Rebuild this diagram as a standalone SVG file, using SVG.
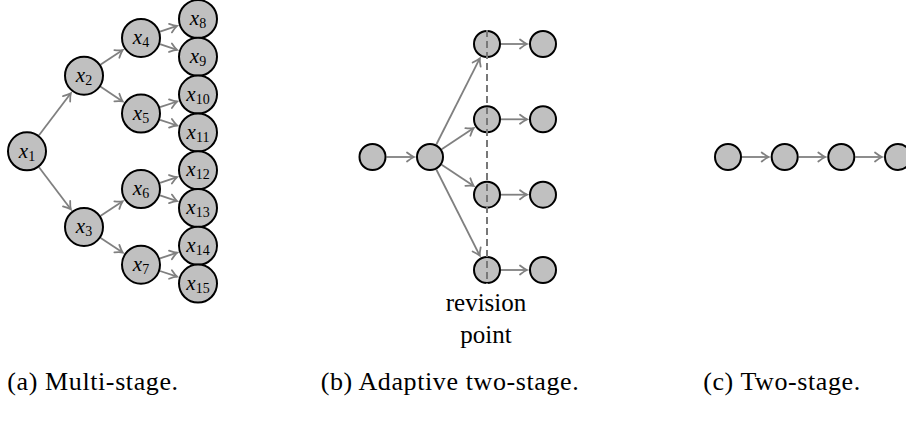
<svg xmlns="http://www.w3.org/2000/svg" width="906" height="424" viewBox="0 0 906 424">
<style>
.n{fill:#c0c0c0;stroke:#000;stroke-width:2}
.e{stroke:#808080;stroke-width:1.8;fill:none;marker-end:url(#ah)}
.lbl{font-family:'Liberation Serif','Times New Roman',serif;font-style:italic;font-size:21px;text-anchor:middle;fill:#000}
.sub{font-style:normal;font-size:14px}
.t{font-family:'Liberation Serif','Times New Roman',serif;font-size:25px;text-anchor:middle;fill:#000}
.cap{font-family:'Liberation Serif','Times New Roman',serif;font-size:26px;letter-spacing:0.6px;text-anchor:middle;fill:#000}
.d{stroke:#787878;stroke-width:2;stroke-dasharray:7,4;fill:none}
</style>
<defs>
<marker id="ah" markerUnits="userSpaceOnUse" markerWidth="12" markerHeight="12" viewBox="-9 -6 11 12" refX="0" refY="0" orient="auto">
<path d="M-7,-4.5 Q-2.5,-1 0,0 Q-2.5,1 -7,4.5" fill="none" stroke="#808080" stroke-width="1.8" stroke-linecap="round"/>
</marker>
</defs>

<g id="edges">
<line class="e" x1="39" y1="135.3" x2="70.8" y2="93.3"/>
<line class="e" x1="39" y1="167.3" x2="70.8" y2="209.3"/>
<line class="e" x1="100.7" y1="64.6" x2="122.7" y2="50.1"/>
<line class="e" x1="100.7" y1="86.8" x2="122.7" y2="101.4"/>
<line class="e" x1="100.7" y1="215.8" x2="122.7" y2="201.3"/>
<line class="e" x1="100.7" y1="238" x2="122.7" y2="252.5"/>
<line class="e" x1="160" y1="31.6" x2="177.1" y2="25.9"/>
<line class="e" x1="160" y1="44.2" x2="177.1" y2="49.9"/>
<line class="e" x1="160" y1="107.2" x2="177.1" y2="101.5"/>
<line class="e" x1="160" y1="119.8" x2="177.1" y2="125.5"/>
<line class="e" x1="160" y1="182.8" x2="177.1" y2="177.1"/>
<line class="e" x1="160" y1="195.4" x2="177.1" y2="201.1"/>
<line class="e" x1="160" y1="258.4" x2="177.1" y2="252.7"/>
<line class="e" x1="160" y1="271" x2="177.1" y2="276.7"/>
<line class="e" x1="386.5" y1="157" x2="414" y2="157"/>
<line class="e" x1="436.3" y1="144.5" x2="479.8" y2="58.3"/>
<line class="e" x1="441.7" y1="149.3" x2="473.7" y2="128.1"/>
<line class="e" x1="441.7" y1="164.7" x2="473.7" y2="185.9"/>
<line class="e" x1="436.3" y1="169.5" x2="479.8" y2="255.7"/>
<line class="e" x1="501" y1="44" x2="527" y2="44"/>
<line class="e" x1="501" y1="119.3" x2="527" y2="119.3"/>
<line class="e" x1="501" y1="194.7" x2="527" y2="194.7"/>
<line class="e" x1="501" y1="270" x2="527" y2="270"/>
<line class="e" x1="742" y1="157" x2="768.7" y2="157"/>
<line class="e" x1="798.7" y1="157" x2="825.3" y2="157"/>
<line class="e" x1="855.3" y1="157" x2="882" y2="157"/>
</g>

<g id="x1"><circle class="n" cx="27" cy="151.3" r="19"/><text class="lbl" x="27" y="157.5">x<tspan class="sub" dy="3">1</tspan></text></g>
<g id="x2"><circle class="n" cx="84" cy="75.7" r="19"/><text class="lbl" x="84" y="81.9">x<tspan class="sub" dy="3">2</tspan></text></g>
<g id="x3"><circle class="n" cx="84" cy="226.9" r="19"/><text class="lbl" x="84" y="233.1">x<tspan class="sub" dy="3">3</tspan></text></g>
<g id="x4"><circle class="n" cx="141" cy="37.9" r="19"/><text class="lbl" x="141" y="44.1">x<tspan class="sub" dy="3">4</tspan></text></g>
<g id="x5"><circle class="n" cx="141" cy="113.5" r="19"/><text class="lbl" x="141" y="119.7">x<tspan class="sub" dy="3">5</tspan></text></g>
<g id="x6"><circle class="n" cx="141" cy="189.1" r="19"/><text class="lbl" x="141" y="195.3">x<tspan class="sub" dy="3">6</tspan></text></g>
<g id="x7"><circle class="n" cx="141" cy="264.7" r="19"/><text class="lbl" x="141" y="270.9">x<tspan class="sub" dy="3">7</tspan></text></g>
<g id="x8"><circle class="n" cx="198" cy="19" r="19"/><text class="lbl" x="198" y="25.2">x<tspan class="sub" dy="3">8</tspan></text></g>
<g id="x9"><circle class="n" cx="198" cy="56.8" r="19"/><text class="lbl" x="198" y="63">x<tspan class="sub" dy="3">9</tspan></text></g>
<g id="x10"><circle class="n" cx="198" cy="94.6" r="19"/><text class="lbl" x="198" y="100.8">x<tspan class="sub" dy="3">10</tspan></text></g>
<g id="x11"><circle class="n" cx="198" cy="132.4" r="19"/><text class="lbl" x="198" y="138.6">x<tspan class="sub" dy="3">11</tspan></text></g>
<g id="x12"><circle class="n" cx="198" cy="170.2" r="19"/><text class="lbl" x="198" y="176.4">x<tspan class="sub" dy="3">12</tspan></text></g>
<g id="x13"><circle class="n" cx="198" cy="208" r="19"/><text class="lbl" x="198" y="214.2">x<tspan class="sub" dy="3">13</tspan></text></g>
<g id="x14"><circle class="n" cx="198" cy="245.8" r="19"/><text class="lbl" x="198" y="252">x<tspan class="sub" dy="3">14</tspan></text></g>
<g id="x15"><circle class="n" cx="198" cy="283.6" r="19"/><text class="lbl" x="198" y="289.8">x<tspan class="sub" dy="3">15</tspan></text></g>

<g id="b-start"><circle class="n" cx="372.5" cy="157" r="13"/></g>
<g id="b-mid"><circle class="n" cx="430" cy="157" r="13"/></g>
<g id="b-r1"><circle class="n" cx="487" cy="44" r="13"/></g>
<g id="b-r2"><circle class="n" cx="487" cy="119.3" r="13"/></g>
<g id="b-r3"><circle class="n" cx="487" cy="194.7" r="13"/></g>
<g id="b-r4"><circle class="n" cx="487" cy="270" r="13"/></g>
<g id="b-e1"><circle class="n" cx="543" cy="44" r="13"/></g>
<g id="b-e2"><circle class="n" cx="543" cy="119.3" r="13"/></g>
<g id="b-e3"><circle class="n" cx="543" cy="194.7" r="13"/></g>
<g id="b-e4"><circle class="n" cx="543" cy="270" r="13"/></g>
<g id="revision">
<line class="d" x1="487" y1="30" x2="487" y2="284"/>
<text class="t" x="486" y="311">revision</text>
<text class="t" x="486" y="343">point</text>
</g>

<g id="c1"><circle class="n" cx="728" cy="157" r="13"/></g>
<g id="c2"><circle class="n" cx="784.7" cy="157" r="13"/></g>
<g id="c3"><circle class="n" cx="841.3" cy="157" r="13"/></g>
<g id="c4"><circle class="n" cx="898" cy="157" r="13"/></g>

<g id="captions">
<text class="cap" x="93" y="390">(a) Multi-stage.</text>
<text class="cap" x="450" y="390">(b) Adaptive two-stage.</text>
<text class="cap" x="782" y="390">(c) Two-stage.</text>
</g>
</svg>
